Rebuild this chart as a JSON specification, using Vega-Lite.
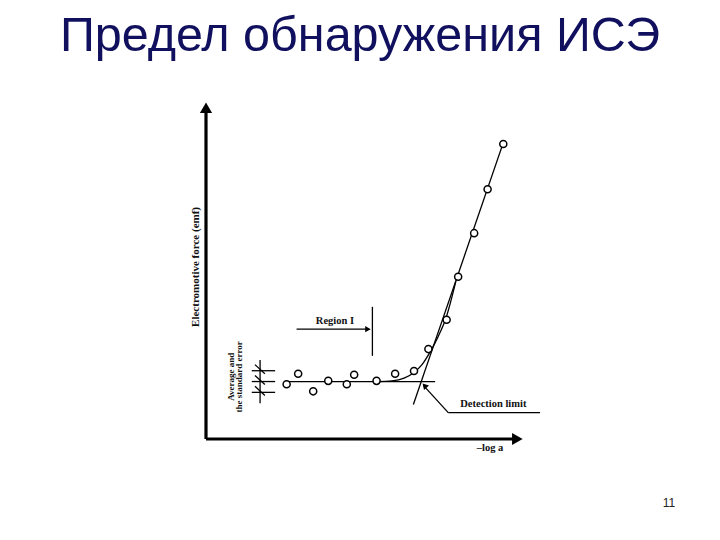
{
  "$schema": "https://vega.github.io/schema/vega-lite/v6.json",
  "width": 320,
  "height": 338,
  "autosize": {"type": "none"},
  "padding": {"left": 206, "top": 101, "right": 194, "bottom": 101},
  "background": "white",
  "config": {"view": {"stroke": null}},
  "title": {
    "text": "Предел обнаружения ИСЭ",
    "font": "Liberation Sans",
    "fontSize": 48.5,
    "fontWeight": "normal",
    "color": "#10105e",
    "anchor": "middle",
    "frame": "group",
    "offset": 40,
    "dx": -6
  },
  "datasets": {
    "points": [
      {"x": 2.52, "y": 1.62}, {"x": 2.88, "y": 1.93}, {"x": 3.35, "y": 1.41},
      {"x": 3.82, "y": 1.72}, {"x": 4.40, "y": 1.62}, {"x": 4.63, "y": 1.90},
      {"x": 5.33, "y": 1.72}, {"x": 5.91, "y": 1.93}, {"x": 6.50, "y": 2.01},
      {"x": 6.95, "y": 2.66}, {"x": 7.52, "y": 3.53}, {"x": 7.88, "y": 4.80},
      {"x": 8.38, "y": 6.09}, {"x": 8.80, "y": 7.39}, {"x": 9.29, "y": 8.73}
    ],
    "curve": [
      {"x": 5.33, "y": 1.70}, {"x": 5.81, "y": 1.72}, {"x": 6.19, "y": 1.80},
      {"x": 6.50, "y": 1.97}, {"x": 6.75, "y": 2.20}, {"x": 7.00, "y": 2.57},
      {"x": 7.25, "y": 3.02}, {"x": 7.50, "y": 3.58}, {"x": 7.81, "y": 4.67}
    ],
    "axes": [
      {"x": 0, "y": 0, "x2": 0, "y2": 9.7},
      {"x": 0, "y": 0, "x2": 9.7, "y2": 0}
    ],
    "thin": [
      {"x": 2.52, "y": 1.70, "x2": 7.16, "y2": 1.70},
      {"x": 6.48, "y": 1.02, "x2": 9.31, "y2": 8.82},
      {"x": 5.20, "y": 2.46, "x2": 5.20, "y2": 3.91},
      {"x": 2.83, "y": 3.25, "x2": 5.10, "y2": 3.25},
      {"x": 7.57, "y": 0.78, "x2": 10.44, "y2": 0.78},
      {"x": 7.57, "y": 0.78, "x2": 6.80, "y2": 1.58},
      {"x": 1.69, "y": 1.06, "x2": 1.69, "y2": 2.34},
      {"x": 1.43, "y": 2.02, "x2": 2.16, "y2": 2.02},
      {"x": 1.43, "y": 1.70, "x2": 2.16, "y2": 1.70},
      {"x": 1.43, "y": 1.38, "x2": 2.16, "y2": 1.38},
      {"x": 1.53, "y": 2.20, "x2": 1.84, "y2": 1.93},
      {"x": 1.53, "y": 1.88, "x2": 1.84, "y2": 1.61},
      {"x": 1.53, "y": 1.56, "x2": 1.84, "y2": 1.29}
    ]
  },
  "layer": [
    {
      "data": {"name": "axes"},
      "mark": {"type": "rule", "color": "black", "strokeWidth": 3.2},
      "encoding": {
        "x": {"field": "x", "type": "quantitative", "scale": {"domain": [0, 10], "nice": false, "zero": false}, "axis": null},
        "y": {"field": "y", "type": "quantitative", "scale": {"domain": [0, 10], "nice": false, "zero": false}, "axis": null},
        "x2": {"field": "x2"},
        "y2": {"field": "y2"}
      }
    },
    {
      "data": {"values": [{"x": 0, "y": 9.8}]},
      "mark": {"type": "point", "shape": "triangle-up", "filled": true, "color": "black", "size": 150, "opacity": 1},
      "encoding": {
        "x": {"field": "x", "type": "quantitative"},
        "y": {"field": "y", "type": "quantitative"}
      }
    },
    {
      "data": {"values": [{"x": 9.73, "y": 0}]},
      "mark": {"type": "point", "shape": "triangle-right", "filled": true, "color": "black", "size": 150, "opacity": 1},
      "encoding": {
        "x": {"field": "x", "type": "quantitative"},
        "y": {"field": "y", "type": "quantitative"}
      }
    },
    {
      "data": {"name": "thin"},
      "mark": {"type": "rule", "color": "black", "strokeWidth": 1.3},
      "encoding": {
        "x": {"field": "x", "type": "quantitative"},
        "y": {"field": "y", "type": "quantitative"},
        "x2": {"field": "x2"},
        "y2": {"field": "y2"}
      }
    },
    {
      "data": {"name": "curve"},
      "mark": {"type": "line", "color": "black", "strokeWidth": 1.3, "interpolate": "monotone"},
      "encoding": {
        "x": {"field": "x", "type": "quantitative"},
        "y": {"field": "y", "type": "quantitative"}
      }
    },
    {
      "data": {"name": "points"},
      "mark": {"type": "point", "shape": "circle", "filled": true, "fill": "white", "stroke": "black", "strokeWidth": 1.5, "size": 50, "opacity": 1},
      "encoding": {
        "x": {"field": "x", "type": "quantitative"},
        "y": {"field": "y", "type": "quantitative"}
      }
    },
    {
      "data": {"values": [{"x": 5.06, "y": 3.25}]},
      "mark": {"type": "point", "shape": "triangle-right", "filled": true, "color": "black", "size": 40, "opacity": 1},
      "encoding": {
        "x": {"field": "x", "type": "quantitative"},
        "y": {"field": "y", "type": "quantitative"}
      }
    },
    {
      "data": {"values": [{"x": 6.83, "y": 1.58}]},
      "mark": {"type": "point", "shape": "triangle-up", "filled": true, "color": "black", "size": 45, "angle": -42, "opacity": 1},
      "encoding": {
        "x": {"field": "x", "type": "quantitative"},
        "y": {"field": "y", "type": "quantitative"}
      }
    },
    {
      "data": {"values": [
        {"x": 4.03, "y": 3.49, "label": "Region I"},
        {"x": 8.98, "y": 1.03, "label": "Detection limit"},
        {"x": 8.875, "y": -0.28, "label": "–log a"}
      ]},
      "mark": {"type": "text", "font": "Liberation Serif", "fontWeight": "bold", "fontSize": 10.5, "align": "center", "baseline": "middle", "color": "#111111"},
      "encoding": {
        "x": {"field": "x", "type": "quantitative"},
        "y": {"field": "y", "type": "quantitative"},
        "text": {"field": "label"}
      }
    },
    {
      "data": {"values": [
        {"x": -0.31, "y": 5.09, "label": "Electromotive force (emf)"}
      ]},
      "mark": {"type": "text", "font": "Liberation Serif", "fontWeight": "bold", "fontSize": 11, "angle": 270, "align": "center", "baseline": "middle", "color": "#111111"},
      "encoding": {
        "x": {"field": "x", "type": "quantitative"},
        "y": {"field": "y", "type": "quantitative"},
        "text": {"field": "label"}
      }
    },
    {
      "data": {"values": [
        {"x": 0.78, "y": 1.84, "label": ["Average and", "the standard error"]}
      ]},
      "mark": {"type": "text", "font": "Liberation Serif", "fontWeight": "bold", "fontSize": 9, "lineHeight": 8.5, "angle": 270, "align": "center", "baseline": "middle", "color": "#111111"},
      "encoding": {
        "x": {"field": "x", "type": "quantitative"},
        "y": {"field": "y", "type": "quantitative"},
        "text": {"field": "label"}
      }
    },
    {
      "data": {"values": [
        {"x": 14.47, "y": -1.89, "label": "11"}
      ]},
      "mark": {"type": "text", "font": "Liberation Sans", "fontSize": 12, "align": "center", "baseline": "middle", "color": "#222222"},
      "encoding": {
        "x": {"field": "x", "type": "quantitative"},
        "y": {"field": "y", "type": "quantitative"},
        "text": {"field": "label"}
      }
    }
  ]
}
